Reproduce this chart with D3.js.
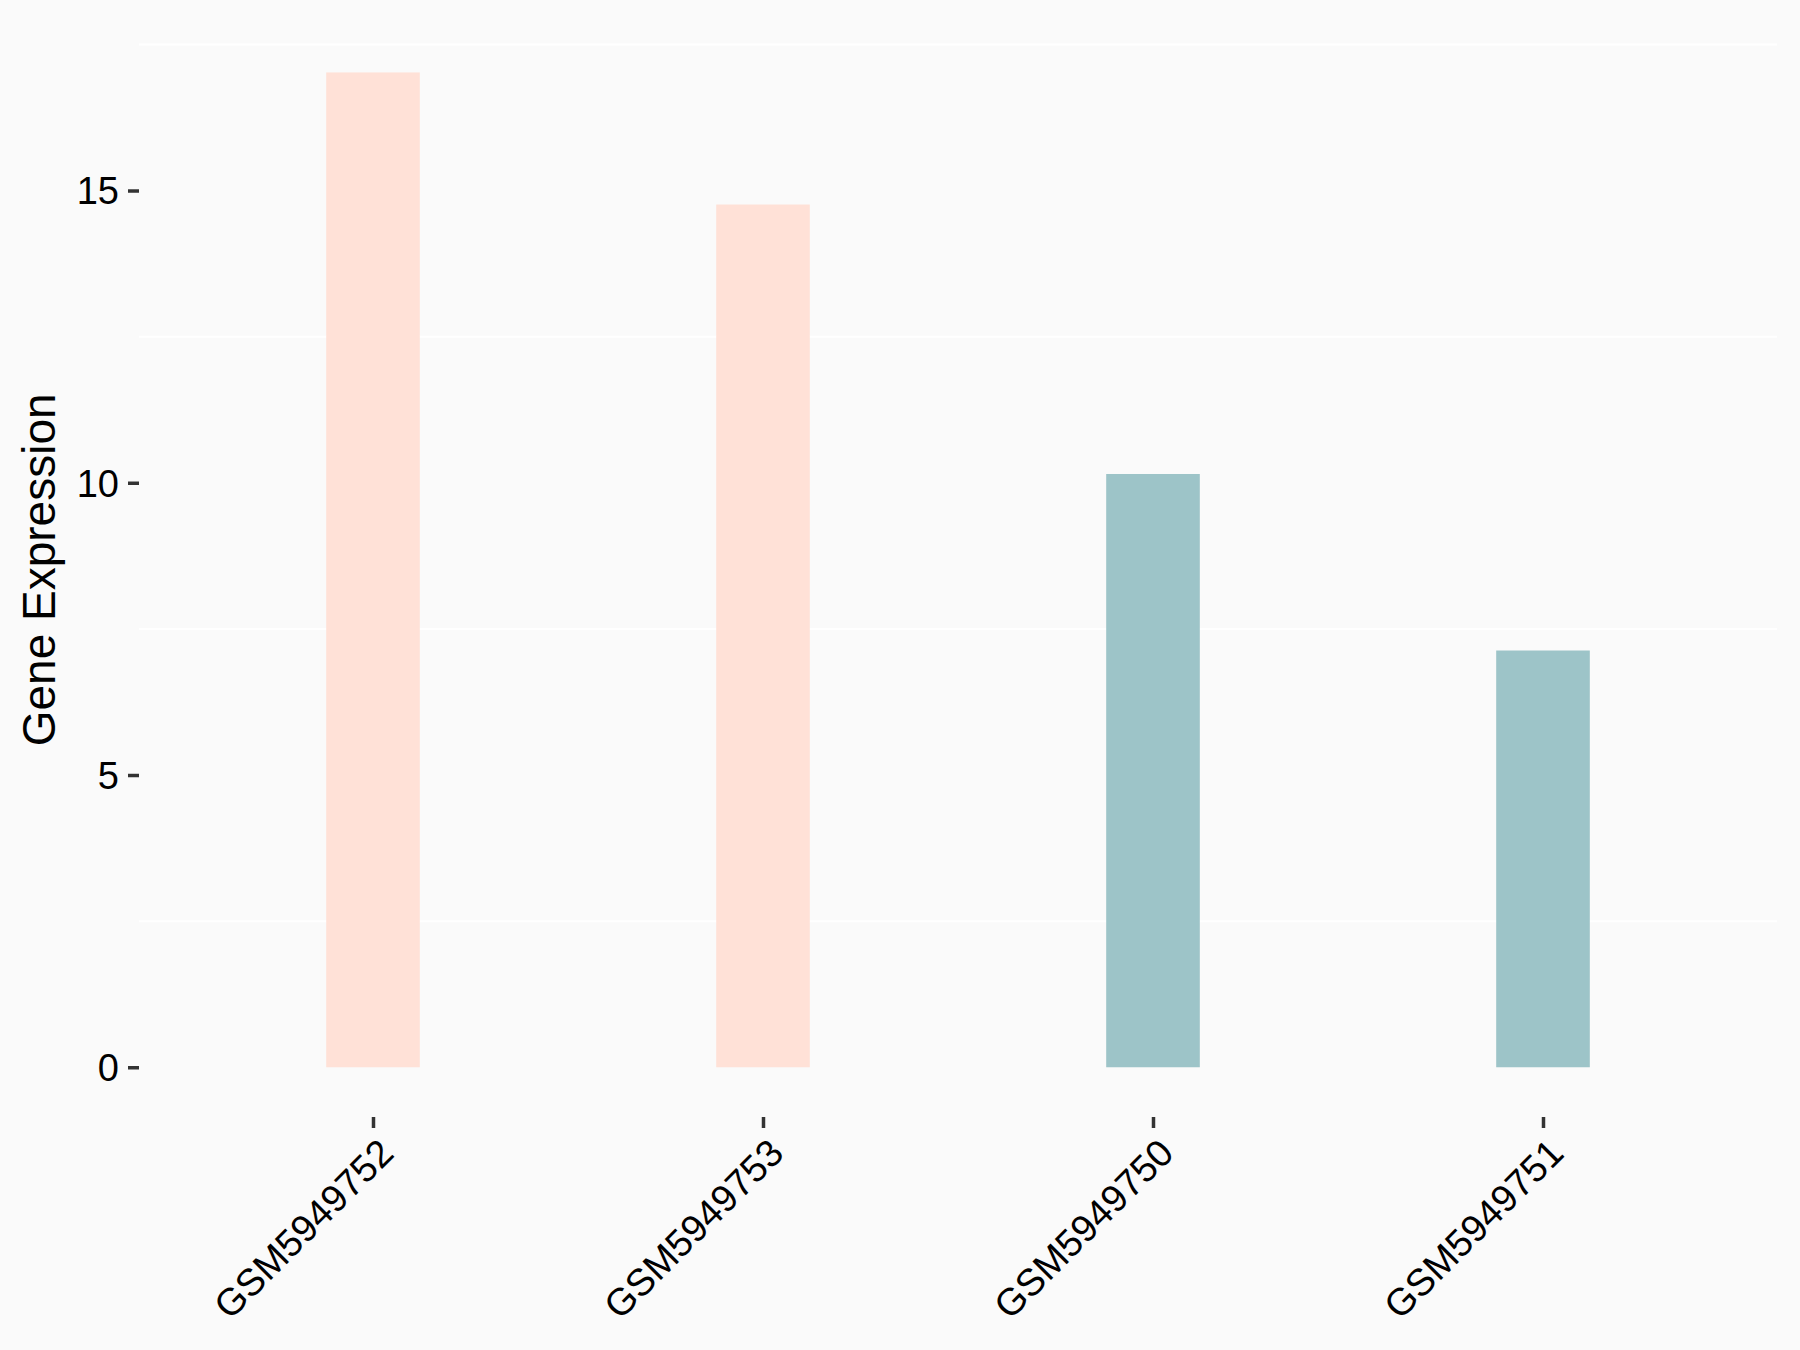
<!DOCTYPE html>
<html>
<head>
<meta charset="utf-8">
<script src="https://cdn.jsdelivr.net/npm/d3@7"></script>
<style>
  html, body { margin: 0; padding: 0; background: #fafafa; }
  svg { display: block; font-family: "Liberation Sans", Arial, sans-serif; }
</style>
</head>
<body>
<div id="chart"></div>
<script>
// samples, ordered as on the x axis
var samples = ["GSM5949752", "GSM5949753", "GSM5949750", "GSM5949751"];
var expression = [17.02, 14.76, 10.15, 7.13];
var group = ["high", "high", "low", "low"];
var groupColours = ["#ffe1d7", "#9dc4c8"];
var yTicks = [0, 5, 10, 15];
var yMinorGrid = [2.5, 7.5, 12.5, 17.5];

var width = 1800,
    height = 1350,
    margin = {top: 22.7, right: 23, bottom: 233, left: 139};

var svg = d3.select("#chart")
    .append("svg")
    .attr("width", width)
    .attr("height", height);

svg.append("rect")
    .attr("width", width)
    .attr("height", height)
    .attr("fill", "#fafafa");

// ggplot-like 5% expansion on the continuous axis
var yMax = d3.max(expression);
var pad = 0.05 * yMax;

var y = d3.scaleLinear()
    .domain([-pad, yMax + pad])
    .range([height - margin.bottom, margin.top]);

var x = d3.scalePoint()
    .domain(samples)
    .range([margin.left, width - margin.right])
    .padding(0.6);

var colour = d3.scaleOrdinal()
    .domain(["high", "low"])
    .range(groupColours);

var barWidth = x.step() * 0.24;

// only the minor grid shows up in the reference
svg.append("g")
    .selectAll("line")
    .data(yMinorGrid)
    .enter()
    .append("line")
    .attr("x1", margin.left)
    .attr("x2", width - margin.right)
    .attr("y1", function (d) { return y(d); })
    .attr("y2", function (d) { return y(d); })
    .attr("stroke", "#ffffff")
    .attr("stroke-width", 2);

svg.append("g")
    .selectAll("rect")
    .data(samples)
    .enter()
    .append("rect")
    .attr("x", function (d) { return x(d) - barWidth / 2; })
    .attr("width", barWidth)
    .attr("y", function (d, i) { return y(expression[i]); })
    .attr("height", function (d, i) { return y(0) - y(expression[i]); })
    .attr("fill", function (d, i) { return colour(group[i]); });

// y axis
var yAxis = svg.append("g")
    .attr("transform", "translate(" + margin.left + ",0)")
    .call(d3.axisLeft(y).tickValues(yTicks).tickSize(11).tickPadding(9));

yAxis.select(".domain").remove();
yAxis.selectAll(".tick line")
    .attr("stroke", "#333333")
    .attr("stroke-width", 3.5);
yAxis.selectAll(".tick text")
    .attr("fill", "#000000")
    .style("font-size", "38px")
    .attr("dy", "0.35em");

// x axis
var xAxis = svg.append("g")
    .attr("transform", "translate(0," + (height - margin.bottom) + ")")
    .call(d3.axisBottom(x).tickSize(11).tickPadding(0));

xAxis.select(".domain").remove();
xAxis.selectAll(".tick line")
    .attr("stroke", "#333333")
    .attr("stroke-width", 3.5);
xAxis.selectAll(".tick text")
    .attr("fill", "#000000")
    .style("font-size", "38px")
    .attr("text-anchor", "end")
    .attr("y", 0)
    .attr("dy", 0)
    .attr("transform", "translate(3,19) rotate(-45)")
    .attr("dominant-baseline", "hanging");

// y title
svg.append("text")
    .attr("transform", "translate(55," + ((margin.top + height - margin.bottom) / 2) + ") rotate(-90)")
    .attr("text-anchor", "middle")
    .style("font-size", "46px")
    .attr("fill", "#000000")
    .text("Gene Expression");
</script>
</body>
</html>
